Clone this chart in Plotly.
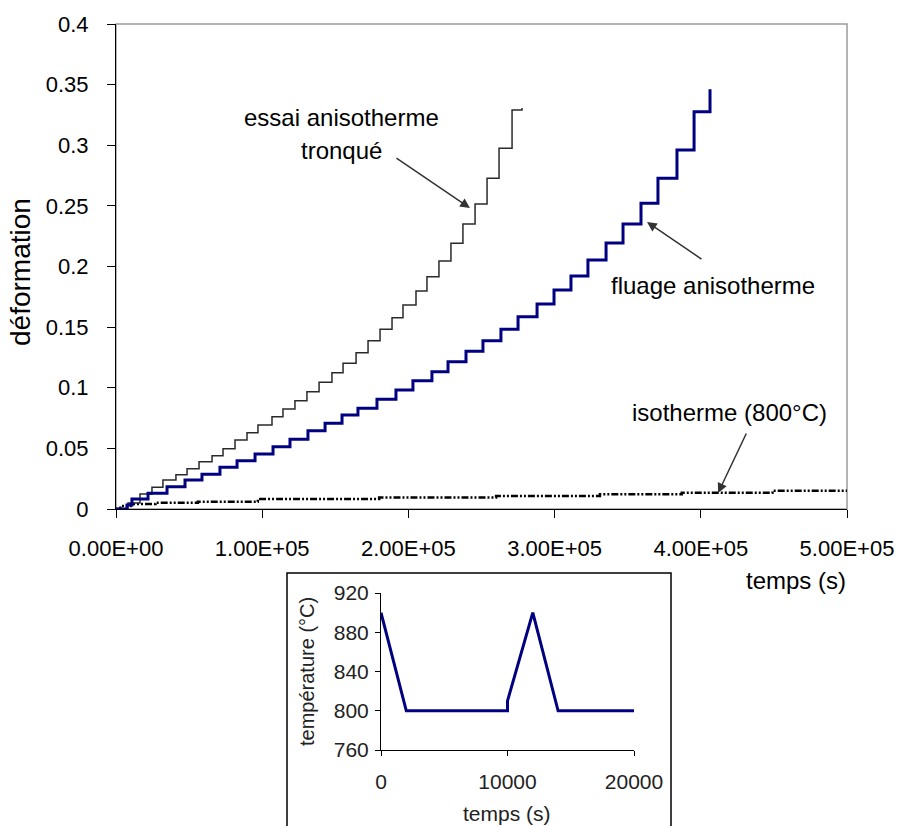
import plotly.graph_objects as go

# ---- data ----
# "essai anisotherme tronqué": time of each riser (s) and strain level after it
tronque_t = [0, 8200, 16400, 24600, 32100, 41000, 48600, 56800, 65700, 73200, 81400, 89600,
             97100, 106700, 114200, 122400, 130600, 138900, 147700, 155300, 164200, 172400,
             180600, 188800, 196300, 205200, 212700, 220900, 229100, 237300, 245600, 253800,
             262000, 270900, 277700]
tronque_eps = [0.0, 0.0049, 0.0124, 0.0179, 0.0239, 0.0283, 0.0332, 0.0390, 0.0440, 0.0497,
               0.0569, 0.0629, 0.0693, 0.0761, 0.0825, 0.0893, 0.0967, 0.1045, 0.1124, 0.1202,
               0.1289, 0.1388, 0.1482, 0.1578, 0.1682, 0.1798, 0.1916, 0.2045, 0.2191, 0.2350,
               0.2515, 0.2727, 0.2975, 0.3291, 0.3307]

# "fluage anisotherme"
aniso_t = [0, 7500, 10900, 21900, 34900, 47200, 58800, 71100, 82800, 95100, 107400, 119000,
           131300, 143000, 154600, 165500, 178500, 191500, 203100, 216100, 227100, 239400,
           251000, 263300, 275000, 288000, 299600, 311200, 322800, 335200, 346800, 359100,
           370700, 383700, 395400, 406300]
aniso_eps = [0.0, 0.0033, 0.0082, 0.0129, 0.0184, 0.0239, 0.0286, 0.0344, 0.0398, 0.0454,
             0.0514, 0.0575, 0.0646, 0.0707, 0.0775, 0.0830, 0.0905, 0.0981, 0.1058, 0.1132,
             0.1215, 0.1301, 0.1388, 0.1482, 0.1586, 0.1691, 0.1806, 0.1922, 0.2054, 0.2194,
             0.2350, 0.2521, 0.2727, 0.2961, 0.3277, 0.3461]

# "isotherme (800°C)"
iso_t = [0, 3000, 10000, 27000, 56000, 97000, 180000, 260000, 331000, 387000, 449000, 500000]
iso_eps = [0.0, 0.0025, 0.0041, 0.0052, 0.0060, 0.0082, 0.0095, 0.0108, 0.0121, 0.0134,
           0.0151, 0.0151]

x_ticks = [0, 100000, 200000, 300000, 400000, 500000]
x_ticktext = ["0.00E+00", "1.00E+05", "2.00E+05", "3.00E+05", "4.00E+05", "5.00E+05"]
y_ticks = [0, 0.05, 0.1, 0.15, 0.2, 0.25, 0.3, 0.35, 0.4]
y_ticktext = ["0", "0.05", "0.1", "0.15", "0.2", "0.25", "0.3", "0.35", "0.4"]

# inset: temperature cycle
cycle_t = [0, 2000, 10000, 10000, 12000, 14000, 20000]
cycle_T = [900, 800, 800, 810, 900, 800, 800]
inset_xticks = [0, 10000, 20000]
inset_xticktext = ["0", "10000", "20000"]
inset_yticks = [760, 800, 840, 880, 920]
inset_yticktext = ["760", "800", "840", "880", "920"]

FONT = "Liberation Sans, Arial, sans-serif"
W, H = 902, 826
NAVY = "#000080"


def px(x):
    return x / W


def py(y):
    return 1 - y / H


fig = go.Figure()

fig.add_trace(go.Scatter(x=iso_t, y=iso_eps, mode="lines", line_shape="hv",
                         line=dict(color="#000000", width=2.5, dash="7px,2px,2px,2px,2px,2px"),
                         xaxis="x", yaxis="y", showlegend=False, hoverinfo="skip"))
fig.add_trace(go.Scatter(x=tronque_t, y=tronque_eps, mode="lines", line_shape="hv",
                         line=dict(color="#2a2a2a", width=1.5),
                         xaxis="x", yaxis="y", showlegend=False, hoverinfo="skip"))
fig.add_trace(go.Scatter(x=aniso_t, y=aniso_eps, mode="lines", line_shape="hv",
                         line=dict(color=NAVY, width=3),
                         xaxis="x", yaxis="y", showlegend=False, hoverinfo="skip"))
fig.add_trace(go.Scatter(x=cycle_t, y=cycle_T, mode="lines",
                         line=dict(color=NAVY, width=3),
                         xaxis="x2", yaxis="y2", showlegend=False, hoverinfo="skip"))

axis_common = dict(showline=True, linecolor="black", linewidth=1, ticks="outside",
                   tickcolor="black", showgrid=False, zeroline=False, automargin=False,
                   mirror=False)
main_font = dict(family=FONT, size=22, color="black")
inset_font = dict(family=FONT, size=21, color="#222222")

fig.update_layout(
    width=W, height=H,
    margin=dict(l=0, r=0, t=0, b=0),
    paper_bgcolor="white", plot_bgcolor="white",
    font=dict(family=FONT, color="black"),
    xaxis=dict(domain=[px(116), px(847)], range=[0, 500000], tickvals=x_ticks,
               ticktext=x_ticktext, ticklen=8, ticklabelstandoff=12, anchor="y",
               tickfont=main_font, **axis_common),
    yaxis=dict(domain=[py(509), py(24)], range=[0, 0.4], tickvals=y_ticks,
               ticktext=y_ticktext, ticklen=8, ticklabelstandoff=14, anchor="x",
               tickfont=main_font, **axis_common),
    xaxis2=dict(domain=[px(381), px(634)], range=[0, 20000], tickvals=inset_xticks,
                ticktext=inset_xticktext, ticklen=5, ticklabelstandoff=8, anchor="y2",
                tickfont=inset_font, **axis_common),
    yaxis2=dict(domain=[py(750), py(593)], range=[760, 920], tickvals=inset_yticks,
                ticktext=inset_yticktext, ticklen=5, ticklabelstandoff=2, anchor="x2",
                tickfont=inset_font, **axis_common),
)

# plot-area border (gray top/right) and inset frame
fig.add_shape(type="rect", xref="x domain", yref="y domain", x0=0, x1=1, y0=0, y1=1,
              line=dict(color="#9a9a9a", width=1.5), layer="below")
fig.add_shape(type="rect", xref="paper", yref="paper", x0=px(287), x1=px(671),
              y0=py(840), y1=py(573), line=dict(color="black", width=1.5))

# arrows
arrows = [
    (242100, 0.2482, 190800, 0.2903),
    (363200, 0.2367, 401500, 0.2053),
    (411800, 0.0132, 431600, 0.0635),
]
for hx, hy, tx, ty in arrows:
    fig.add_annotation(x=hx, y=hy, ax=tx, ay=ty, xref="x", yref="y", axref="x", ayref="y",
                       text="", showarrow=True, arrowhead=2, arrowsize=1.3, arrowwidth=1.5,
                       arrowcolor="#333333")

labels = [
    ("essai anisotherme", 153900, 0.3225),
    ("tronqué", 153900, 0.2960),
    ("fluage anisotherme", 408400, 0.1847),
    ("isotherme (800°C)", 419300, 0.0792),
]
for txt, lx, ly in labels:
    fig.add_annotation(x=lx, y=ly, xref="x", yref="y", text=txt, showarrow=False,
                       font=dict(family=FONT, size=24, color="black"))

# axis titles
fig.add_annotation(x=px(848), y=py(580), xref="paper", yref="paper", text="temps (s)",
                   showarrow=False, xanchor="right", yanchor="middle",
                   font=dict(family=FONT, size=24, color="black"))
fig.add_annotation(x=px(20), y=py(272), xref="paper", yref="paper", text="déformation",
                   showarrow=False, textangle=-90, xanchor="center", yanchor="middle",
                   font=dict(family=FONT, size=28, color="black"))
fig.add_annotation(x=px(307), y=py(672), xref="paper", yref="paper", text="température (°C)",
                   showarrow=False, textangle=-90, xanchor="center", yanchor="middle",
                   font=dict(family=FONT, size=20, color="#222222"))
fig.add_annotation(x=px(507), y=py(813), xref="paper", yref="paper", text="temps (s)",
                   showarrow=False, xanchor="center", yanchor="middle",
                   font=dict(family=FONT, size=21, color="#222222"))

fig.write_html("out.html", config={"displayModeBar": False},
               post_script="document.body.style.margin='0';document.body.style.overflow='hidden';")
